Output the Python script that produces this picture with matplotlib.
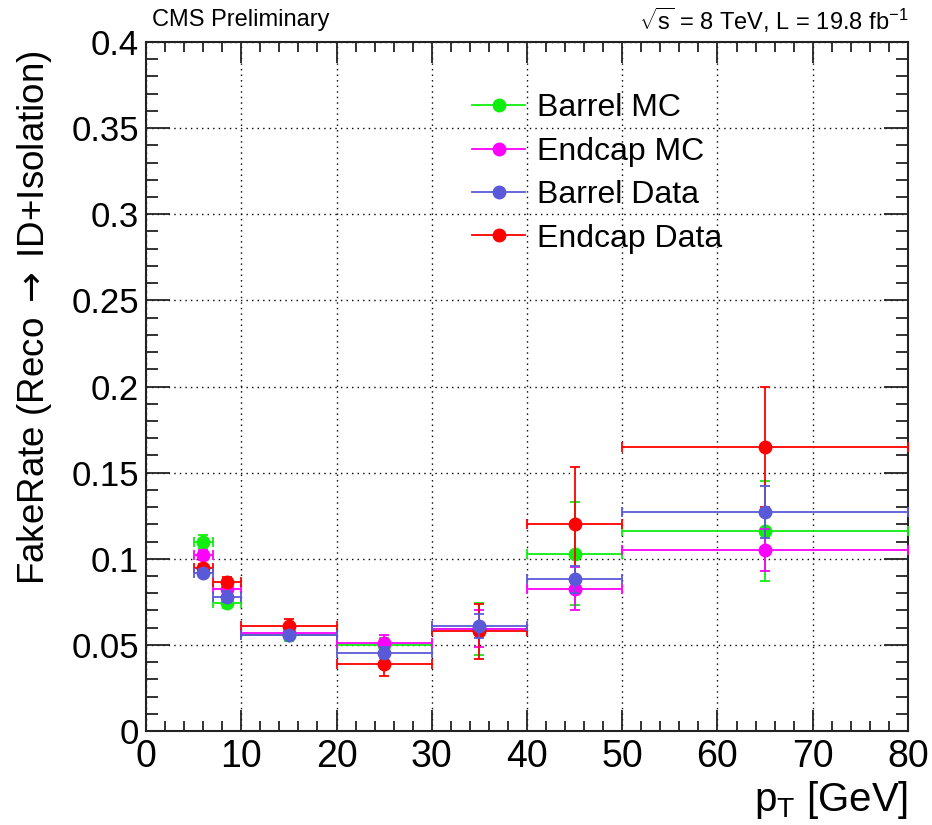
import matplotlib
matplotlib.use("Agg")
import matplotlib.pyplot as plt
from matplotlib.ticker import MultipleLocator
from matplotlib.lines import Line2D
import numpy as np

plt.rcParams['font.family'] = ['Liberation Sans', 'DejaVu Sans']
plt.rcParams['mathtext.fontset'] = 'custom'
plt.rcParams['mathtext.rm'] = 'Liberation Sans'
plt.rcParams['mathtext.it'] = 'Liberation Sans:italic'
plt.rcParams['mathtext.sf'] = 'DejaVu Sans'

# pT bin edges [GeV]
bin_edges = [5, 7, 10, 20, 30, 40, 50, 80]

# fake rates
barrel_mc = [0.110, 0.0745, 0.0555, 0.050, 0.0593, 0.103, 0.116]
barrel_mc_err = [0.004, 0.003, 0.003, 0.004, 0.015, 0.030, 0.029]
endcap_mc = [0.102, 0.0825, 0.057, 0.051, 0.0595, 0.0825, 0.105]
endcap_mc_err = [0.003, 0.003, 0.002, 0.005, 0.011, 0.0125, 0.012]
barrel_data = [0.092, 0.078, 0.056, 0.0455, 0.061, 0.088, 0.127]
barrel_data_err = [0.002, 0.003, 0.002, 0.003, 0.007, 0.008, 0.015]
endcap_data = [0.0948, 0.0865, 0.0612, 0.039, 0.058, 0.120, 0.165]
endcap_data_err = [0.002, 0.003, 0.004, 0.007, 0.016, 0.033, 0.035]

edges = np.array(bin_edges, dtype=float)
centers = 0.5 * (edges[1:] + edges[:-1])
half_w = 0.5 * (edges[1:] - edges[:-1])

fig = plt.figure(figsize=(9.32, 8.25), dpi=100)
ax = fig.add_axes([146 / 932, 1 - 731 / 825, 762 / 932, 689 / 825])

series = [
    ("Barrel MC", barrel_mc, barrel_mc_err, "#10ee10", 3),
    ("Endcap MC", endcap_mc, endcap_mc_err, "#ff00ff", 4),
    ("Barrel Data", barrel_data, barrel_data_err, "#5a5ad8", 6),
    ("Endcap Data", endcap_data, endcap_data_err, "#ff0000", 5),
]

handles = []
for label, vals, errs, col, z in series:
    ax.errorbar(centers, vals, xerr=half_w, yerr=errs, fmt='o', color=col,
                ms=9, mec=col, elinewidth=1.3, capsize=3.5, capthick=1.3,
                zorder=z)
    # legend entry: line with marker, like ROOT's "lp" option
    handles.append(Line2D([], [], color=col, marker='o', ms=9, mec=col, lw=1.3,
                          label=label))

ax.set_xlim(0, 80)
ax.set_ylim(0, 0.4)
ax.xaxis.set_major_locator(MultipleLocator(10))
ax.xaxis.set_minor_locator(MultipleLocator(2))
ax.yaxis.set_minor_locator(MultipleLocator(0.01))
ax.set_yticks(np.arange(0, 0.401, 0.05))
ax.set_yticklabels(['0', '0.05', '0.1', '0.15', '0.2', '0.25', '0.3', '0.35', '0.4'])

ax.tick_params(axis='both', which='both', direction='in', top=True, right=True,
               width=1.3, color='#222222')
ax.tick_params(axis='x', which='major', length=15, labelsize=27, pad=6)
ax.tick_params(axis='x', which='minor', length=7.5)
ax.tick_params(axis='y', which='major', length=17, labelsize=25, pad=5)
ax.tick_params(axis='y', which='minor', length=8.5)
for s in ax.spines.values():
    s.set_linewidth(1.5)
    s.set_color('#222222')

ax.grid(True, which='major', color='black', linestyle=(0, (1, 3)), linewidth=1.0)
ax.set_axisbelow(True)

ax.legend(handles=handles, loc='upper left', bbox_to_anchor=(0.428, 0.9255),
          frameon=False, fontsize=23, handlelength=1.66, handletextpad=0.37,
          labelspacing=0.42, borderaxespad=0, borderpad=0)

fig.text(35 / 932, 1 - 50 / 825,
         r"FakeRate (Reco$\;\mathsf{\rightarrow}\;$ID+Isolation)",
         rotation=90, ha='center', va='top', fontsize=26.5)
fig.text(908 / 932, 1 - 800 / 825, r"p$_{\mathregular{T}}$ [GeV]", ha='right',
         va='center', fontsize=29)
fig.text(152 / 932, 1 - 20 / 825, "CMS Preliminary", ha='left', va='center', fontsize=17)
fig.text(908 / 932, 1 - 20 / 825, r"$\mathregular{\sqrt{s}}$ = 8 TeV, L = 19.8 fb$^{-1}$",
         ha='right', va='center', fontsize=17)

fig.savefig("out.png", dpi=100)
